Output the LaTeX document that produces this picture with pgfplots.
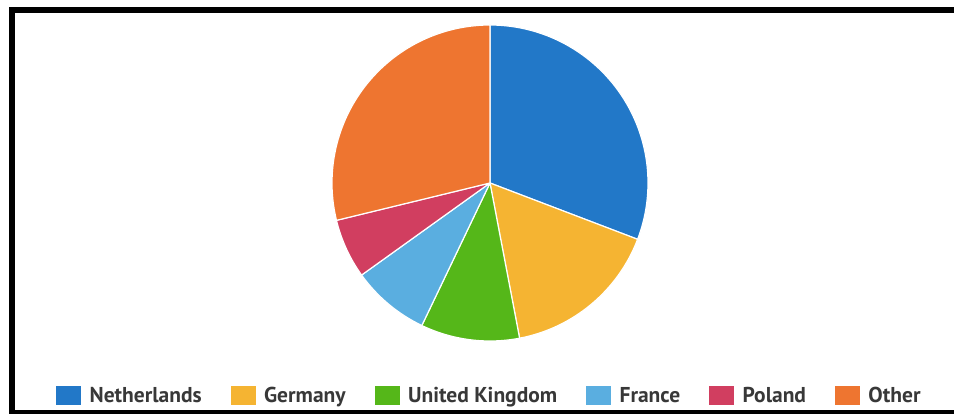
\documentclass[border=0pt]{standalone}
\usepackage{pgfplots}
\pgfplotsset{compat=1.18}
\usepackage{pgfplotstable}
\usepackage{fontspec}
\setmainfont{PT Sans}
\definecolor{cNL}{HTML}{2278C8}
\definecolor{cDE}{HTML}{F5B432}
\definecolor{cUK}{HTML}{55B719}
\definecolor{cFR}{HTML}{5AAEE0}
\definecolor{cPL}{HTML}{D13E60}
\definecolor{cOT}{HTML}{EE7530}
\definecolor{txt}{HTML}{383838}

\pgfplotstableread{
name value color
Netherlands 30.8 cNL
Germany 16.2 cDE
UnitedKingdom 10.1 cUK
France 8.0 cFR
Poland 6.1 cPL
Other 28.8 cOT
}\piedata

\newcommand{\sq}[1]{\addlegendimage{legend image code/.code={\fill[#1] (0pt,-9pt) rectangle (24pt,9pt);}}}

\begin{document}
\begin{tikzpicture}[x=1pt,y=1pt]
\useasboundingbox (0,0) rectangle (954,414);
\fill[white] (0,0) rectangle (954,414);
\fill[black] (9,401) rectangle (954,407);
\fill[black] (9,0) rectangle (15,407);
\fill[black] (9,0) rectangle (954,4);
\begin{axis}[
  at={(490pt,231pt)}, anchor=center,
  width=316pt, height=316pt, scale only axis,
  xmin=-1, xmax=1, ymin=-1, ymax=1,
  hide axis, clip=false,
  legend columns=6,
  legend style={draw=none, fill=none,
    at={(rel axis cs:0.495,-0.172)}, anchor=center,
    font=\fontsize{21.5}{23}\selectfont\bfseries\color{txt},
    /tikz/every odd column/.append style={column sep=9pt},
    /tikz/every even column/.append style={column sep=29pt},
    nodes={inner xsep=0pt}},
]
\pgfmathsetmacro{\startang}{90}
\pgfplotsforeachungrouped \i in {0,...,5}{%
  \pgfplotstablegetelem{\i}{value}\of\piedata
  \pgfmathsetmacro{\endang}{\startang-3.6*\pgfplotsretval}%
  \pgfplotstablegetelem{\i}{color}\of\piedata
  \edef\temp{\noexpand\filldraw[fill=\pgfplotsretval, draw=white, line width=1.2pt, line join=round]
     (axis cs:0,0) -- (axis cs:{cos(\startang)},{sin(\startang)}) arc[start angle=\startang, end angle=\endang, radius=158pt] -- cycle;}%
  \temp
  \global\let\startang\endang
}
\sq{cNL}\addlegendentry{Netherlands}
\sq{cDE}\addlegendentry{Germany}
\sq{cUK}\addlegendentry{United Kingdom}
\sq{cFR}\addlegendentry{France}
\sq{cPL}\addlegendentry{Poland}
\sq{cOT}\addlegendentry{Other}
\end{axis}
\end{tikzpicture}
\end{document}
